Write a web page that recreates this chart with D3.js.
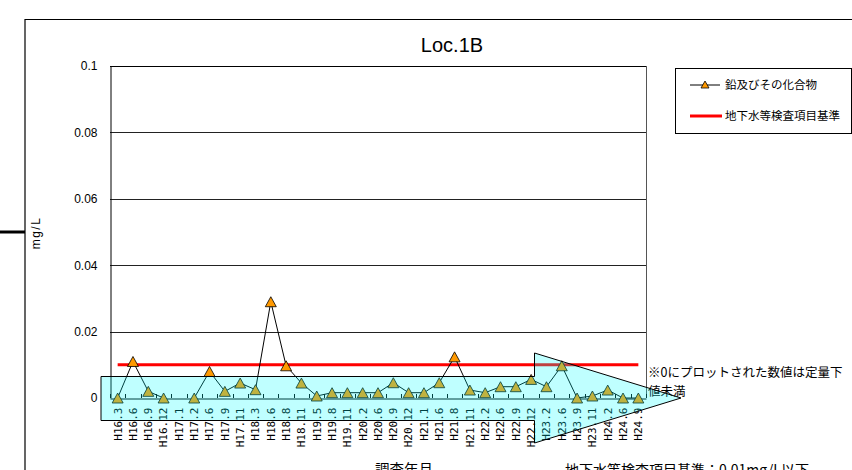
<!DOCTYPE html>
<html><head><meta charset="utf-8">
<script src="https://cdn.jsdelivr.net/npm/d3@7"></script>
<style>body{margin:0;background:#fff;overflow:hidden;} svg{display:block;}</style>
</head><body>
<svg id="chart" width="852" height="470"></svg>
<script>
const chartTitle = "Loc.1B";
const categories = ["H16.3","H16.6","H16.9","H16.12","H17.1","H17.2","H17.6","H17.9","H17.11","H18.3","H18.6","H18.8","H18.11","H19.5","H19.8","H19.11","H20.2","H20.6","H20.9","H20.12","H21.1","H21.6","H21.8","H21.11","H22.2","H22.6","H22.9","H22.12","H23.2","H23.6","H23.9","H23.11","H24.2","H24.6","H24.9"];
const leadValues = [0,0.011,0.002,0,null,0,0.008,0.002,0.0045,0.0025,0.029,0.0097,0.0045,0.0006,0.0016,0.0016,0.0016,0.0016,0.0046,0.0016,0.0016,0.0046,0.0124,0.0024,0.0016,0.0034,0.0034,0.0056,0.0034,0.0097,0,0.0006,0.0024,0,0];
const standardValue = 0.01;
const yTicks = [0,0.02,0.04,0.06,0.08,0.1];
const yTickLabels = ["0","0.02","0.04","0.06","0.08","0.1"];
const seriesNames = ["鉛及びその化合物","地下水等検査項目基準"];
const yAxisTitle = "mg/L";
const xAxisTitle = "調査年月";
const footnote = "地下水等検査項目基準：0.01mg/L以下";
const noteLines = ["※0にプロットされた数値は定量下","値未満"];

const svg = d3.select("#chart");
const latin = "'Liberation Sans', Arial, 'Noto Sans CJK JP', sans-serif";
const jp = "'Noto Sans CJK JP', sans-serif";

const plot = {left:110, right:646, top:66, bottom:398};
const x = d3.scaleBand().domain(categories).range([plot.left, plot.right]).padding(0);
const cx = d => x(d) + x.bandwidth()/2;
const y = d3.scaleLinear().domain([0,0.1]).range([plot.bottom, plot.top]);

// outer chart border
svg.append("path").attr("d","M25,470 L25,19.5 L852,19.5").attr("fill","none").attr("stroke","#000").attr("stroke-width",1.2);
// left thick connector line
svg.append("line").attr("x1",0).attr("x2",25).attr("y1",232).attr("y2",232).attr("stroke","#000").attr("stroke-width",3);

// title
svg.append("text").attr("x",452).attr("y",52).attr("text-anchor","middle")
  .attr("font-family",latin).attr("font-size",20).text(chartTitle);

// gridlines
svg.append("g").selectAll("line").data(yTicks.filter(v=>v>0)).join("line")
  .attr("x1",plot.left).attr("x2",plot.right)
  .attr("y1",d=>Math.round(y(d))+0.5).attr("y2",d=>Math.round(y(d))+0.5)
  .attr("stroke",d=>d===0.1?"#000":"#222").attr("stroke-width",1);
// right border
svg.append("line").attr("x1",plot.right+0.5).attr("x2",plot.right+0.5).attr("y1",plot.top).attr("y2",plot.bottom)
  .attr("stroke","#555");

// y axis
const yAxis = d3.axisLeft(y).tickValues(yTicks).tickSize(0).tickPadding(13)
  .tickFormat((d,i)=>yTickLabels[i]);
const yg = svg.append("g").attr("transform",`translate(${plot.left+0.5},0)`).call(yAxis);
yg.select(".domain").attr("stroke","#000");
yg.selectAll("text").attr("font-family",latin).attr("font-size",12).attr("fill","#000");

// x axis
const xAxis = d3.axisBottom(x).tickSize(0).tickPadding(0);
const xg = svg.append("g").attr("transform",`translate(0,${plot.bottom+0.5})`).call(xAxis);
xg.select(".domain").attr("stroke","#000");
xg.selectAll(".tick text")
  .attr("font-family","'DejaVu Sans Mono','Liberation Mono',monospace").attr("font-size",11).attr("fill","#000")
  .attr("text-anchor","end").attr("dy","0.35em")
  .attr("transform","translate(0,9) rotate(-90)").attr("x",0).attr("y",0);
// tick marks at band boundaries (upward)
const bounds = categories.map(c=>x(c)).concat([plot.right]);
svg.append("g").selectAll("line").data(bounds).join("line")
  .attr("x1",d=>Math.round(d)+0.5).attr("x2",d=>Math.round(d)+0.5)
  .attr("y1",plot.bottom-4).attr("y2",plot.bottom).attr("stroke","#000");

// standard line
svg.append("line").attr("x1",cx(categories[0])).attr("x2",cx(categories[categories.length-1]))
  .attr("y1",y(standardValue)).attr("y2",y(standardValue)).attr("stroke","#ff0000").attr("stroke-width",3);

// lead series
const pts = categories.map((c,i)=>({c, v:leadValues[i]}));
const line = d3.line().defined(d=>d.v!==null).x(d=>cx(d.c)).y(d=>y(d.v));
svg.append("path").datum(pts).attr("d",line).attr("fill","none").attr("stroke","#000").attr("stroke-width",1);
const tri = (w,h)=>`M0,${-h/2} L${w/2},${h/2} L${-w/2},${h/2} Z`;
svg.append("g").selectAll("path").data(pts.filter(d=>d.v!==null)).join("path")
  .attr("d",tri(11,10)).attr("transform",d=>`translate(${cx(d.c)},${y(d.v)})`)
  .attr("fill","#ff9900").attr("stroke","#000").attr("stroke-width",0.8);

// legend
const lg = svg.append("g");
lg.append("rect").attr("x",675.5).attr("y",68.5).attr("width",176).attr("height",65)
  .attr("fill","#fff").attr("stroke","#000");
lg.append("line").attr("x1",690).attr("x2",720).attr("y1",85).attr("y2",85).attr("stroke","#000");
lg.append("path").attr("d",tri(8,7)).attr("transform","translate(705,84.5)").attr("fill","#ff9900").attr("stroke","#000").attr("stroke-width",0.8);
lg.append("line").attr("x1",690).attr("x2",722).attr("y1",116).attr("y2",116).attr("stroke","#ff0000").attr("stroke-width",3);
lg.selectAll("text.s").data(seriesNames).join("text")
  .attr("x",725).attr("y",(d,i)=>85+i*31).attr("dy","0.35em")
  .attr("font-family",jp).attr("font-size",11.5).text(d=>d);

// y axis title
svg.append("text").attr("transform","translate(36,233) rotate(-90)").attr("text-anchor","middle")
  .attr("dy","0.35em").attr("font-family",latin).attr("font-size",12).attr("letter-spacing",1.5).text(yAxisTitle);

// bottom titles
svg.append("text").attr("x",404).attr("y",475).attr("text-anchor","middle")
  .attr("font-family",jp).attr("font-size",14.5).text(xAxisTitle);
svg.append("text").attr("x",565).attr("y",475)
  .attr("font-family",jp).attr("font-size",14).text(footnote);

// note
svg.append("g").selectAll("text").data(noteLines).join("text")
  .attr("x",648).attr("y",(d,i)=>373+i*19).attr("dy","0.35em")
  .attr("font-family",jp).attr("font-size",12.5).text(d=>d);

// decorative arrow overlay
const arrow = [[101,376.5],[534.5,376.5],[534.5,353],[681,398],[534.5,443],[534.5,420.5],[101,420.5]];
svg.append("path").attr("d","M"+arrow.map(p=>p.join(",")).join("L")+"Z")
  .attr("fill","#00ffff").attr("fill-opacity",0.25).attr("stroke","#000").attr("stroke-width",1);
</script>
</body></html>
